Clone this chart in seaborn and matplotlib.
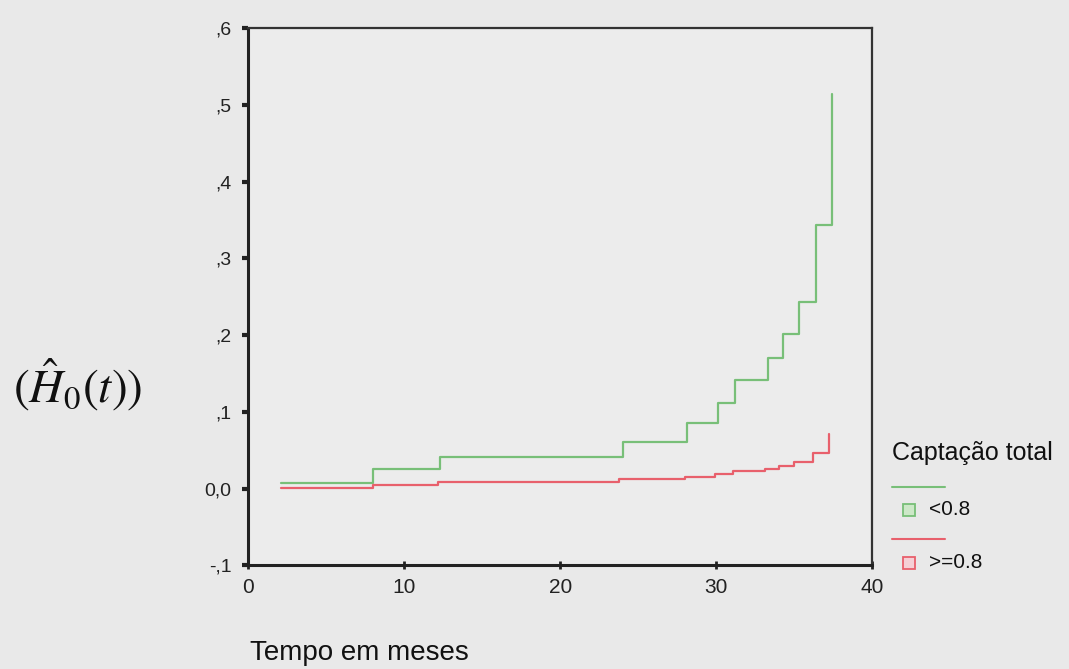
import numpy as np
import pandas as pd
import matplotlib
matplotlib.use("Agg")
import matplotlib.pyplot as plt
from matplotlib.lines import Line2D
import seaborn as sns

# ---- data ----
t_low = [2.1, 8.0, 12.3, 24.0, 28.1, 30.1, 31.2, 33.3, 34.3, 35.3, 36.4, 37.4]
h_low = [0.007, 0.025, 0.041, 0.061, 0.086, 0.112, 0.141, 0.170, 0.202, 0.243, 0.343, 0.514]
t_high = [2.1, 8.0, 12.2, 23.8, 28.0, 29.9, 31.1, 33.1, 34.0, 35.0, 36.2, 37.2]
h_high = [0.001, 0.005, 0.008, 0.013, 0.015, 0.019, 0.023, 0.026, 0.029, 0.034, 0.046, 0.071]
groups = ["<0.8", ">=0.8"]
x_ticks = [0, 10, 20, 30, 40]
y_ticks = [-0.1, 0.0, 0.1, 0.2, 0.3, 0.4, 0.5, 0.6]
y_ticklabels = ["-,1", "0,0", ",1", ",2", ",3", ",4", ",5", ",6"]
legend_title = "Captação total"
x_label = "Tempo em meses"
y_label = r"$(\hat{H}_0(t))$"

df = pd.DataFrame({
    "t": t_low + t_high,
    "H": h_low + h_high,
    "grupo": [groups[0]] * len(t_low) + [groups[1]] * len(t_high),
})

sns.set_theme(style="ticks")
plt.rcParams["font.family"] = ["Liberation Sans", "DejaVu Sans"]
plt.rcParams["mathtext.fontset"] = "stix"

bg = "#e9e9e9"
green = "#78bf78"
red = "#e8606c"

fig = plt.figure(figsize=(10.69, 6.69), dpi=100, facecolor=bg)
ax = fig.add_axes([0.232, 0.155, 0.584, 0.803])
ax.set_facecolor("#ececec")

sns.lineplot(data=df, x="t", y="H", hue="grupo", palette={groups[0]: green, groups[1]: red},
             drawstyle="steps-post", estimator=None, legend=False, linewidth=1.6, ax=ax)

ax.set_xlim(0, 40)
ax.set_ylim(-0.1, 0.6)
ax.set_xticks(x_ticks)
ax.set_xticklabels([str(v) for v in x_ticks])
ax.set_yticks(y_ticks)
ax.set_yticklabels(y_ticklabels)
ax.set_xlabel("")
ax.set_ylabel("")
for side in ["left", "bottom"]:
    ax.spines[side].set_linewidth(2.2)
    ax.spines[side].set_color("#222222")
for side in ["top", "right"]:
    ax.spines[side].set_visible(True)
    ax.spines[side].set_linewidth(1.6)
    ax.spines[side].set_color("#333333")
ax.tick_params(axis="y", direction="out", length=4, width=3, labelsize=14, colors="#222222", pad=8)
ax.tick_params(axis="x", direction="inout", length=6, width=2, labelsize=15, colors="#222222", pad=6)

fig.text(0.234, 0.024, x_label, fontsize=20, color="#111111", ha="left", va="center")
fig.text(0.012, 0.425, y_label, fontsize=34, color="#111111", ha="left", va="center")

# legend
fig.text(0.834, 0.323, legend_title, fontsize=18, color="#111111", ha="left", va="center")
fig.add_artist(Line2D([0.834, 0.884], [0.272, 0.272], color=green, lw=1.5, transform=fig.transFigure))
fig.add_artist(Line2D([0.850], [0.238], marker="s", markersize=8, markerfacecolor="#cde8c8",
                      markeredgecolor=green, markeredgewidth=1.3, linestyle="none", transform=fig.transFigure))
fig.text(0.869, 0.238, groups[0], fontsize=15, color="#111111", ha="left", va="center")
fig.add_artist(Line2D([0.834, 0.884], [0.194, 0.194], color=red, lw=1.5, transform=fig.transFigure))
fig.add_artist(Line2D([0.850], [0.159], marker="s", markersize=8, markerfacecolor="#f5d0d6",
                      markeredgecolor=red, markeredgewidth=1.3, linestyle="none", transform=fig.transFigure))
fig.text(0.869, 0.159, groups[1], fontsize=15, color="#111111", ha="left", va="center")

fig.savefig("out.png", dpi=100, facecolor=bg)
